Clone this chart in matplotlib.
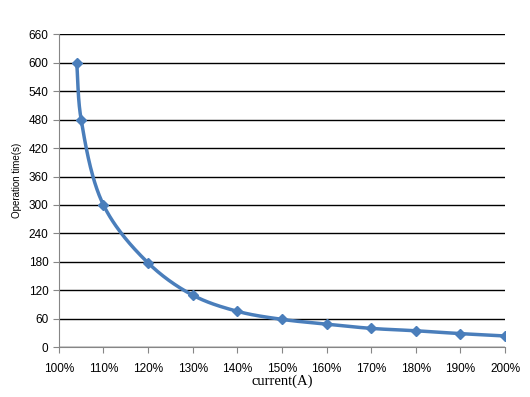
import numpy as np
import matplotlib
matplotlib.use("Agg")
import matplotlib.pyplot as plt

current_pct = [104, 105, 110, 120, 130, 140, 150, 160, 170, 180, 190, 200]
op_time = [600, 480, 300, 178, 110, 76, 59, 49, 40, 35, 29, 24]
xticks = list(range(100, 201, 10))
yticks = list(range(0, 661, 60))

def smooth(x, y, xr, yr, aspect, n=40, alpha=0.5):
    # centripetal Catmull-Rom in normalized (screen-like) space
    P = np.column_stack([(np.asarray(x, float) - xr[0]) / (xr[1] - xr[0]) * aspect,
                         (np.asarray(y, float) - yr[0]) / (yr[1] - yr[0])])
    P = np.vstack([2*P[0]-P[1], P, 2*P[-1]-P[-2]])
    out = []
    for i in range(1, len(P)-2):
        p0, p1, p2, p3 = P[i-1], P[i], P[i+1], P[i+2]
        t0 = 0.0
        t1 = t0 + np.linalg.norm(p1-p0)**alpha
        t2 = t1 + np.linalg.norm(p2-p1)**alpha
        t3 = t2 + np.linalg.norm(p3-p2)**alpha
        t = np.linspace(t1, t2, n, endpoint=False)[:, None]
        A1 = (t1-t)/(t1-t0)*p0 + (t-t0)/(t1-t0)*p1
        A2 = (t2-t)/(t2-t1)*p1 + (t-t1)/(t2-t1)*p2
        A3 = (t3-t)/(t3-t2)*p2 + (t-t2)/(t3-t2)*p3
        B1 = (t2-t)/(t2-t0)*A1 + (t-t0)/(t2-t0)*A2
        B2 = (t3-t)/(t3-t1)*A2 + (t-t1)/(t3-t1)*A3
        C = (t2-t)/(t2-t1)*B1 + (t-t1)/(t2-t1)*B2
        out.append(C)
    out.append(P[-2][None, :])
    C = np.vstack(out)
    return C[:, 0] / aspect * (xr[1] - xr[0]) + xr[0], C[:, 1] * (yr[1] - yr[0]) + yr[0]

fig = plt.figure(figsize=(5.3, 3.97), dpi=100)
ax = fig.add_axes([0.111, 0.125, 0.842, 0.789])
color = "#4a7ebb"
aspect = (0.842 * 5.3) / (0.789 * 3.97)
sx, sy = smooth(current_pct, op_time, (100, 200), (0, 660), aspect)
ax.plot(sx, sy, color=color, lw=2.5, zorder=3, solid_capstyle="round")
ax.plot(current_pct, op_time, linestyle="none", marker="D", ms=5, color=color, zorder=4)

ax.set_xlim(100, 200)
ax.set_ylim(0, 660)
ax.set_xticks(xticks)
ax.set_xticklabels([f"{v}%" for v in xticks], family="Liberation Sans")
ax.set_yticks(yticks)
ax.set_yticklabels([str(v) for v in yticks], family="Liberation Sans")
ax.yaxis.grid(True, color="black", lw=1)
ax.set_axisbelow(True)
for s in ("top", "right"):
    ax.spines[s].set_visible(False)
for s in ("left", "bottom"):
    ax.spines[s].set_color("#868686")
ax.tick_params(axis="both", colors="#868686", labelcolor="black", labelsize=8.5, length=4)
ax.tick_params(axis="x", pad=7)
ax.set_ylabel("Operation time(s)", fontsize=7, family="Liberation Sans")
ax.yaxis.set_label_coords(-0.083, 0.534)
ax.set_xlabel("current(A)", fontsize=10.5, family="Liberation Serif", labelpad=0)
fig.savefig("out.png", dpi=100)
